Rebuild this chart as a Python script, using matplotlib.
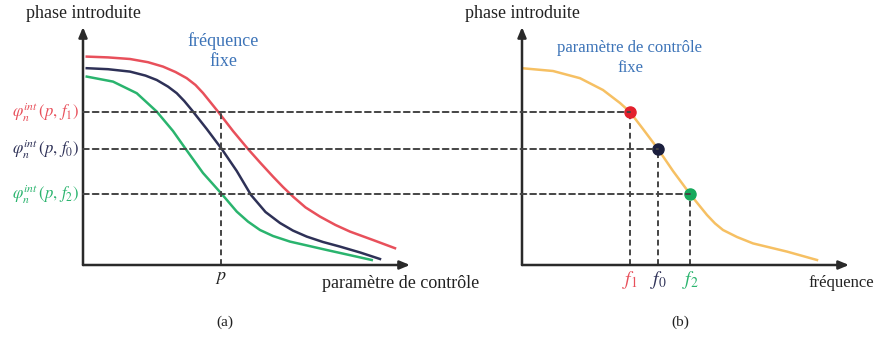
import matplotlib
matplotlib.use("Agg")
from matplotlib import pyplot as plt
from matplotlib.patches import ConnectionPatch

plt.rcParams['font.family'] = ['Liberation Serif', 'DejaVu Serif']
plt.rcParams['mathtext.fontset'] = 'stix'

# (a) phase vs control parameter, three frequencies
param_red = [0.15, 1.0, 1.88, 2.6, 3.2, 3.7, 4.15, 4.5, 4.8, 5.4, 6.0, 6.6, 7.1, 7.6, 8.0, 8.4, 8.9, 9.48, 10.1, 10.68, 11.6, 12.48]
phase_red = [10.42, 10.38, 10.3, 10.14, 9.92, 9.65, 9.34, 9.0, 8.6, 7.67, 6.7, 5.8, 5.1, 4.42, 3.9, 3.42, 2.88, 2.42, 2.0, 1.67, 1.25, 0.84]
param_navy = [0.15, 1.0, 1.88, 2.5, 2.95, 3.4, 3.75, 4.05, 4.35, 4.95, 5.55, 6.15, 6.72, 7.3, 7.88, 8.4, 8.95, 9.6, 10.28, 11.1, 11.88]
phase_navy = [9.84, 9.79, 9.67, 9.47, 9.25, 8.92, 8.59, 8.2, 7.75, 6.8, 5.8, 4.7, 3.5, 2.65, 2.1, 1.72, 1.42, 1.15, 0.92, 0.62, 0.3]
param_green = [0.15, 1.2, 2.15, 2.95, 3.6, 4.08, 4.8, 5.55, 6.15, 6.6, 7.08, 7.6, 8.28, 9.75, 11.55]
phase_green = [9.42, 9.17, 8.59, 7.67, 6.7, 5.85, 4.6, 3.55, 2.67, 2.17, 1.75, 1.45, 1.17, 0.75, 0.25]

# (b) phase vs frequency, fixed control parameter
freq = [0, 1.24, 2.32, 3.24, 3.92, 4.32, 4.84, 5.44, 6.04, 6.72, 7.4, 7.72, 8.04, 8.6, 9.24, 10.6, 11.8]
phase_freq = [9.84, 9.7, 9.34, 8.75, 8.1, 7.65, 6.8, 5.8, 4.7, 3.55, 2.5, 2.08, 1.75, 1.4, 1.08, 0.67, 0.25]

p_value = 5.52
levels = [7.65, 5.8, 3.55]          # phi(p, f1), phi(p, f0), phi(p, f2)
freq_points = [4.32, 5.44, 6.72]    # f1, f0, f2
level_labels = [r'$\varphi_n^{int}\,(p,\,f_1)$', r'$\varphi_n^{int}\,(p,\,f_0)$', r'$\varphi_n^{int}\,(p,\,f_2)$']
freq_labels = [r'$f_1$', r'$f_0$', r'$f_2$']

line_colors = ['#e8505b', '#2e3157', '#2ab46e']
dot_colors = ['#e3202c', '#1b1f3e', '#17a95c']
orange = '#f6c063'
blue_txt = '#3d74b8'
axis_col = '#2a2a2a'
dash_col = '#444444'

fig = plt.figure(figsize=(8.79, 3.40), dpi=100)
ax1 = fig.add_axes([83 / 879, 75 / 340, 327 / 879, 240 / 340])
ax2 = fig.add_axes([522 / 879, 75 / 340, 327 / 879, 240 / 340])

for ax in (ax1, ax2):
    ax.set_xlim(0, 13.08)
    ax.set_ylim(0, 12)
    ax.axis('off')
    ax.annotate('', xy=(13.08, 0), xytext=(0, 0), annotation_clip=False,
                arrowprops=dict(arrowstyle='-|>,head_length=0.6,head_width=0.25',
                                color=axis_col, lw=1.8, shrinkA=0, shrinkB=0))
    ax.annotate('', xy=(0, 11.9), xytext=(0, 0), annotation_clip=False,
                arrowprops=dict(arrowstyle='-|>,head_length=0.6,head_width=0.25',
                                color=axis_col, lw=1.8, shrinkA=0, shrinkB=0))
    ax.text(0, 12.55, 'phase introduite', ha='center', va='center', fontsize=12.9,
            color='#222222', clip_on=False)

# panel (a)
ax1.plot(param_red, phase_red, color=line_colors[0], lw=1.8)
ax1.plot(param_navy, phase_navy, color=line_colors[1], lw=1.8)
ax1.plot(param_green, phase_green, color=line_colors[2], lw=1.8)
ax1.plot([p_value, p_value], [0, levels[0]], ls=(0, (3, 2)), color=dash_col, lw=1.4)
ax1.text(5.6, 10.7, 'fréquence\nfixe', ha='center', va='center', fontsize=13,
         color=blue_txt, linespacing=1.25)
ax1.text(p_value, -0.6, r'$p$', ha='center', va='center', fontsize=13, color='#222222')
ax1.text(9.56, -0.9, 'paramètre de contrôle', ha='left', va='center', fontsize=13, color='#222222')
ax1.text(5.68, -2.85, '(a)', ha='center', va='center', fontsize=11, color='#222222')
for lvl, lab, col in zip(levels, level_labels, line_colors):
    ax1.text(-0.15, lvl, lab, ha='right', va='center', fontsize=12, color=col, clip_on=False)

# panel (b)
ax2.plot(freq, phase_freq, color=orange, lw=1.8, zorder=2)
ax2.text(4.32, 10.35, 'paramètre de contrôle\nfixe', ha='center', va='center', fontsize=12,
         color=blue_txt, linespacing=1.3)
ax2.text(11.44, -0.9, 'fréquence', ha='left', va='center', fontsize=12, color='#222222')
ax2.text(6.32, -2.85, '(b)', ha='center', va='center', fontsize=11, color='#222222')
for lvl, fx, lab, col, dcol in zip(levels, freq_points, freq_labels, line_colors, dot_colors):
    ax2.plot([fx, fx], [0, lvl], ls=(0, (3, 2)), color=dash_col, lw=1.4, zorder=1)
    ax2.plot(fx, lvl, 'o', ms=8, color=dcol, zorder=4)
    ax2.text(fx, -0.75, lab, ha='center', va='center', fontsize=14, color=col)
    con = ConnectionPatch(xyA=(0, lvl), coordsA=ax1.transData, xyB=(fx, lvl), coordsB=ax2.transData,
                          ls=(0, (3, 2)), color=dash_col, lw=1.4, zorder=1)
    fig.add_artist(con)

fig.savefig('out.png', dpi=100, facecolor='white')
